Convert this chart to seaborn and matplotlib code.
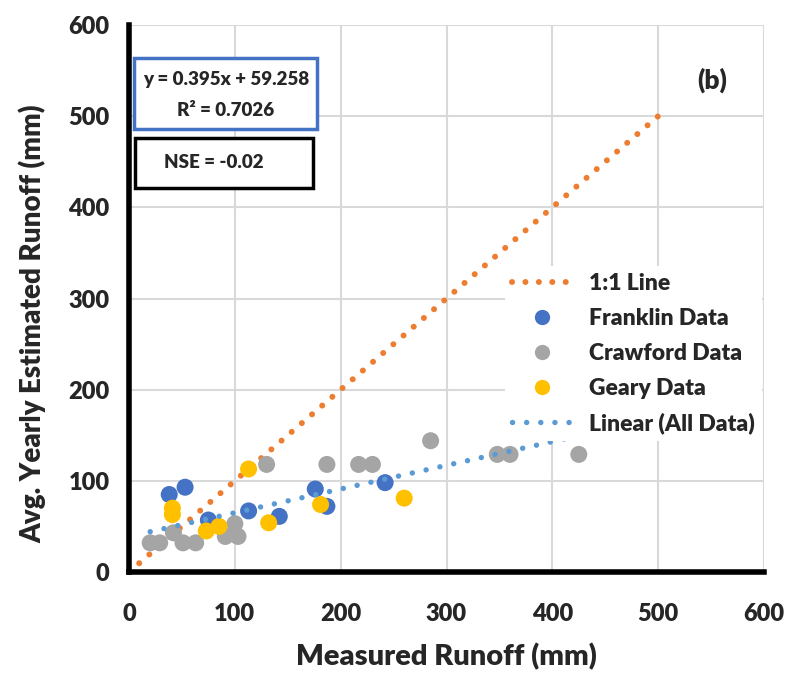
import matplotlib
matplotlib.use("Agg")
import matplotlib.pyplot as plt
import seaborn as sns
import pandas as pd
import numpy as np
from matplotlib.lines import Line2D
from matplotlib.patches import Rectangle

# ---- data ----
franklin_x = [38, 53, 75, 113, 142, 176, 187, 242]
franklin_y = [85, 93, 57, 67, 61, 91, 72, 98]

crawford_x = [20, 29, 42, 51, 63, 91, 100, 103, 130, 187, 217, 230, 285, 348, 360, 425]
crawford_y = [32, 32, 43, 32, 32, 39, 53, 39, 118, 118, 118, 118, 144, 129, 129, 129]

geary_x = [41, 41, 73, 85, 113, 132, 181, 260]
geary_y = [70, 63, 45, 50, 113, 54, 74, 81]

one_to_one_x = [0, 500]
one_to_one_y = [0, 500]

trend_x_range = [20, 425]
trend_slope = 0.26
trend_intercept = 39.0

ticks = [0, 100, 200, 300, 400, 500, 600]

eq_text = "y = 0.395x + 59.258"
r2_text = "R² = 0.7026"
nse_text = "NSE = -0.02"

# ---- styling ----
sns.set_theme(style="white")
FAM = ['Lato', 'DejaVu Sans']
WT = 'heavy'
plt.rcParams['font.family'] = FAM
plt.rcParams['font.weight'] = WT

W, H = 792, 677
fig = plt.figure(figsize=(W / 100, H / 100), dpi=100)
ax = fig.add_axes([129 / W, 1 - 572 / H, (764 - 129) / W, (572 - 25) / H])

c_orange = "#ED7D31"
c_frank = "#4472C4"
c_craw = "#A5A5A5"
c_geary = "#FFC000"
c_lin = "#5B9BD5"

ax.set_xlim(0, 600)
ax.set_ylim(0, 600)
ax.set_xticks(ticks)
ax.set_yticks(ticks)
ax.grid(True, color="#D9D9D9", linewidth=1.5)
ax.set_axisbelow(True)

LW = 4.3
dot_ls = (0, (0.01, 2.237))

# 1:1 line
ax.plot(one_to_one_x, one_to_one_y, color=c_orange, linewidth=LW,
        linestyle=dot_ls, dash_capstyle='round', zorder=2, clip_on=False)

df = pd.DataFrame({
    "x": franklin_x + crawford_x + geary_x,
    "y": franklin_y + crawford_y + geary_y,
    "Site": ["Franklin Data"] * len(franklin_x) + ["Crawford Data"] * len(crawford_x)
            + ["Geary Data"] * len(geary_x),
})
sns.scatterplot(data=df, x="x", y="y", hue="Site",
                palette={"Franklin Data": c_frank, "Crawford Data": c_craw, "Geary Data": c_geary},
                s=150, edgecolor="none", linewidth=0, legend=False, ax=ax, zorder=3)

# linear trend (all data)
tx = np.array(trend_x_range, dtype=float)
ax.plot(tx, trend_slope * tx + trend_intercept, color=c_lin, linewidth=LW - 0.4,
        linestyle=(0, (0.01, 2.6)), dash_capstyle='round', zorder=4)

for s in ["top", "right"]:
    ax.spines[s].set_visible(False)
for s in ["left", "bottom"]:
    ax.spines[s].set_color("black")
    ax.spines[s].set_linewidth(4)
    ax.spines[s].set_zorder(5)

ax.tick_params(axis="both", length=0, labelsize=17)
for lab in ax.get_xticklabels() + ax.get_yticklabels():
    lab.set_fontweight(WT)
ax.tick_params(axis="x", pad=22)
ax.tick_params(axis="y", pad=14)

ax.set_xlabel("Measured Runoff (mm)", fontsize=21, fontweight=WT, labelpad=13)
ax.set_ylabel("Avg. Yearly Estimated Runoff (mm)", fontsize=20, fontweight=WT)
ax.yaxis.set_label_coords(-(129 - 46) / (764 - 129), (572 - 324) / (572 - 25))

# legend
handles = [
    Line2D([0], [0], color=c_orange, linewidth=LW, linestyle=dot_ls, dash_capstyle='round'),
    Line2D([0], [0], marker="o", color="none", markerfacecolor=c_frank, markeredgecolor="none", markersize=11),
    Line2D([0], [0], marker="o", color="none", markerfacecolor=c_craw, markeredgecolor="none", markersize=11),
    Line2D([0], [0], marker="o", color="none", markerfacecolor=c_geary, markeredgecolor="none", markersize=11),
    Line2D([0], [0], color=c_lin, linewidth=LW - 0.4, linestyle=(0, (0.01, 2.6)), dash_capstyle='round'),
]
labels = ["1:1 Line", "Franklin Data", "Crawford Data", "Geary Data", "Linear (All Data)"]
leg = ax.legend(handles, labels, loc="upper left", bbox_to_anchor=(494 / W, 1 - 255 / H),
                bbox_transform=fig.transFigure, frameon=True, fancybox=False,
                prop={"weight": WT, "size": 16.5, "family": FAM},
                handlelength=2.6, handletextpad=0.75, labelspacing=0.6, borderpad=0.3)
leg.get_frame().set_facecolor("white")
leg.get_frame().set_edgecolor("none")
leg.get_frame().set_alpha(1)
leg.set_zorder(6)

# text boxes
fig.patches.append(Rectangle((134 / W, 1 - 129 / H), (317 - 134) / W, (129 - 58) / H,
                             transform=fig.transFigure, fill=True, facecolor="white",
                             edgecolor=c_frank, linewidth=2.5, zorder=10))
fig.text(226 / W, 1 - 79 / H, eq_text, ha="center", va="center", fontsize=13.5,
         fontweight=WT, zorder=11)
fig.text(226 / W, 1 - 111 / H, r2_text, ha="center", va="center", fontsize=13.5,
         fontweight=WT, zorder=11)

fig.patches.append(Rectangle((135 / W, 1 - 188 / H), (313 - 135) / W, (188 - 138) / H,
                             transform=fig.transFigure, fill=True, facecolor="white",
                             edgecolor="black", linewidth=2.5, zorder=10))
fig.text(214 / W, 1 - 163 / H, nse_text, ha="center", va="center", fontsize=13.5,
         fontweight=WT, zorder=11)

fig.text(712 / W, 1 - 80 / H, "(b)", ha="center", va="center", fontsize=19,
         fontweight=WT)

fig.savefig("out.png", dpi=100, facecolor="white")
